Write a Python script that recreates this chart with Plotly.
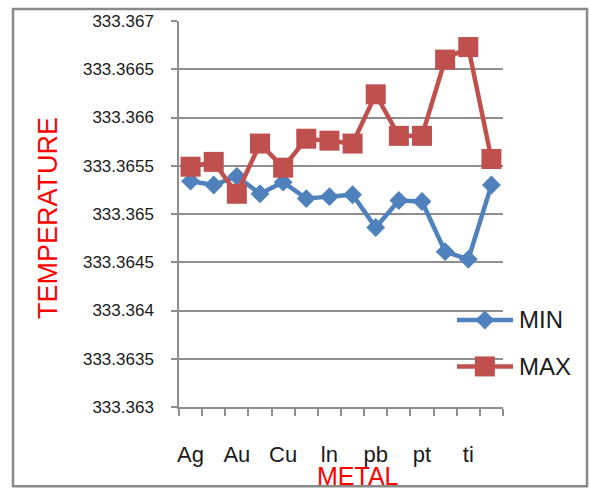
import plotly.graph_objects as go

# Sample positions along the metal axis (every other one is labelled)
sample_idx = list(range(14))
metal_labels = ["Ag", "Au", "Cu", "ln", "pb", "pt", "ti"]
label_idx = [0, 2, 4, 6, 8, 10, 12]

min_temp = [333.36534, 333.36530, 333.36539, 333.36521, 333.36533, 333.36516, 333.36518,
            333.36520, 333.36486, 333.36514, 333.36513, 333.36461, 333.36453, 333.36530]
max_temp = [333.36549, 333.36554, 333.36521, 333.36573, 333.36548, 333.36578, 333.36576,
            333.36573, 333.36624, 333.36581, 333.36581, 333.36660, 333.36673, 333.36557]

y_ticks = [333.363, 333.3635, 333.364, 333.3645, 333.365, 333.3655, 333.366, 333.3665, 333.367]
y_tick_text = ["333.363", "333.3635", "333.364", "333.3645", "333.365", "333.3655",
               "333.366", "333.3665", "333.367"]

BLUE = "#4F81BD"
RED = "#C0504D"
GRID = "#8e8e8e"
FONT = "Liberation Sans"

fig = go.Figure()
fig.add_trace(go.Scatter(
    x=sample_idx, y=min_temp, name="MIN", mode="lines+markers",
    line=dict(color=BLUE, width=4.5),
    marker=dict(symbol="diamond", size=14.5, color=BLUE),
))
fig.add_trace(go.Scatter(
    x=sample_idx, y=max_temp, name="MAX", mode="lines+markers",
    line=dict(color=RED, width=4.5),
    marker=dict(symbol="square", size=20, color=RED),
))

fig.update_layout(
    width=589, height=488,
    margin=dict(l=179, r=86, t=17, b=81),
    paper_bgcolor="white", plot_bgcolor="white",
    showlegend=False,
    font=dict(family=FONT, color="#1a1a1a"),
)

fig.update_xaxes(
    range=[-0.5, 13.5],
    tickmode="array", tickvals=label_idx, ticktext=metal_labels,
    ticks="", ticklabelstandoff=27,
    tickfont=dict(size=22, color="#1a1a1a"),
    showgrid=False, zeroline=False,
    showline=True, linecolor=GRID, linewidth=1.5,
    minor=dict(tickvals=[i - 0.5 for i in range(15)], ticks="outside",
               ticklen=7, tickcolor=GRID, tickwidth=1.5, showgrid=False),
)
fig.update_yaxes(
    range=[333.363, 333.367],
    tickmode="array", tickvals=y_ticks, ticktext=y_tick_text,
    ticks="outside", ticklen=6, tickcolor=GRID, tickwidth=1.5,
    ticklabelstandoff=14,
    tickfont=dict(size=17, color="#1a1a1a"),
    showgrid=True, gridcolor=GRID, gridwidth=1.5,
    zeroline=False, showline=True, linecolor=GRID, linewidth=1.5,
)

shapes = [
    # chart-area frame
    dict(type="rect", xref="paper", yref="paper",
         x0=-0.5123, x1=1.2593, y0=-0.2051, y1=1.0308,
         line=dict(color="#8a8a8a", width=2.5), fillcolor="rgba(0,0,0,0)", layer="below"),
]

# legend keys
legend_rows = [("MIN", BLUE, 0.2256, "diamond"), ("MAX", RED, 0.1051, "square")]
annotations = []
for name, color, ly, sym in legend_rows:
    shapes.append(dict(type="line", xref="paper", yref="paper",
                       x0=0.858, x1=1.031, y0=ly, y1=ly,
                       line=dict(color=color, width=4.5)))
    if sym == "diamond":
        shapes.append(dict(type="path", xref="paper", yref="paper",
                           xsizemode="pixel", ysizemode="pixel",
                           xanchor=0.944, yanchor=ly,
                           path="M -9.5,0 L 0,9.5 L 9.5,0 L 0,-9.5 Z",
                           fillcolor=color, line=dict(color=color, width=0)))
    else:
        shapes.append(dict(type="rect", xref="paper", yref="paper",
                           xsizemode="pixel", ysizemode="pixel",
                           xanchor=0.944, yanchor=ly,
                           x0=-10, x1=10, y0=-10, y1=10,
                           fillcolor=color, line=dict(color=color, width=0)))
    annotations.append(dict(text=name, xref="paper", yref="paper",
                            x=1.043, y=ly, xanchor="left", yanchor="middle",
                            showarrow=False, font=dict(size=24, color="#1a1a1a")))

annotations.append(dict(text="TEMPERATURE", xref="paper", yref="paper",
                        x=-0.4043, y=0.4897, textangle=-90,
                        xanchor="center", yanchor="middle", showarrow=False,
                        font=dict(size=27, color="#ff0000")))
annotations.append(dict(text="METAL", xref="paper", yref="paper",
                        x=0.5525, y=-0.1385, xanchor="center", yanchor="top",
                        showarrow=False, font=dict(size=25, color="#ff0000")))

fig.update_layout(shapes=shapes, annotations=annotations)

fig.write_html("out.html")
